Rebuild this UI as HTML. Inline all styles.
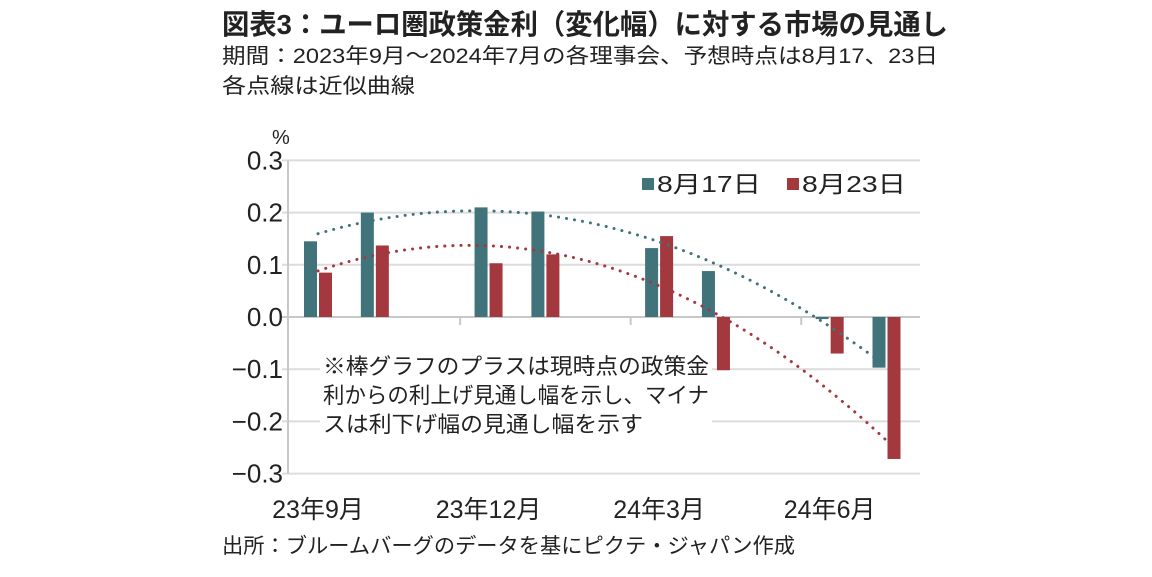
<!DOCTYPE html>
<html><head><meta charset="utf-8"><style>
html,body{margin:0;padding:0;background:#fff;}
svg{display:block;}
text{font-family:"Liberation Sans","Noto Sans CJK JP",sans-serif;fill:#222;}
</style></head><body>
<svg id="chart" width="1152" height="577" viewBox="0 0 1152 577">
<text x="222" y="34" font-size="28" font-weight="bold" textLength="726" lengthAdjust="spacingAndGlyphs">図表3：ユーロ圏政策金利（変化幅）に対する市場の見通し</text>
<text x="222" y="63" font-size="21" textLength="716" lengthAdjust="spacingAndGlyphs">期間：2023年9月～2024年7月の各理事会、予想時点は8月17、23日</text>
<text x="222" y="93" font-size="21" textLength="193" lengthAdjust="spacingAndGlyphs">各点線は近似曲線</text>
<text x="272" y="144" font-size="20">%</text>
<g id="grid"></g>
<g id="bars"></g>
<g id="trends"></g>
<rect x="320" y="346" width="392" height="92" fill="#fff"/>
<g font-size="22">
<text x="323" y="374" textLength="386" lengthAdjust="spacingAndGlyphs">※棒グラフのプラスは現時点の政策金</text>
<text x="323" y="403" textLength="386" lengthAdjust="spacingAndGlyphs">利からの利上げ見通し幅を示し、マイナ</text>
<text x="323" y="432" textLength="320" lengthAdjust="spacingAndGlyphs">スは利下げ幅の見通し幅を示す</text>
</g>
<g id="legend">
<rect x="642" y="178" width="12" height="12" fill="#41737a"/>
<text x="657" y="192" font-size="23" textLength="104" lengthAdjust="spacingAndGlyphs">8月17日</text>
<rect x="787" y="178" width="12" height="12" fill="#a3393f"/>
<text x="802" y="192" font-size="23" textLength="104" lengthAdjust="spacingAndGlyphs">8月23日</text>
</g>
<text x="222" y="553" font-size="21" textLength="573" lengthAdjust="spacingAndGlyphs">出所：ブルームバーグのデータを基にピクテ・ジャパン作成</text>
</svg>
<script>
const monthIndex = [0, 1, 3, 4, 6, 7, 9, 10];
const seriesAug17 = [0.145, 0.200, 0.210, 0.202, 0.132, 0.088, -0.004, -0.097];
const seriesAug23 = [0.085, 0.137, 0.103, 0.120, 0.155, -0.102, -0.070, -0.272];
const yTicks = [0.3, 0.2, 0.1, 0.0, -0.1, -0.2, -0.3];
const yTickLabels = ["0.3", "0.2", "0.1", "0.0", "\u22120.1", "\u22120.2", "\u22120.3"];
const xLabelMonths = [0, 3, 6, 9];
const xLabels = ["23年9月", "23年12月", "24年3月", "24年6月"];

const NS = "http://www.w3.org/2000/svg";
const X0 = 318, SLOT = 56.85, XL = 288, XR = 920;
const yScale = v => 317 - v * 522;
const xScale = m => X0 + m * SLOT;
function mk(tag, attrs, parent) {
  const e = document.createElementNS(NS, tag);
  for (const k in attrs) e.setAttribute(k, attrs[k]);
  parent.appendChild(e); return e;
}
const grid = document.getElementById("grid");
yTicks.forEach((v, i) => {
  const y = yScale(v);
  const l = mk("line", {x1: XL - 6, x2: XR, y1: y, y2: y, stroke: v === 0 ? "#c8c8c8" : "#dcdcdc", "stroke-width": 2}, grid);
  
  
  const t = mk("text", {x: 283, y: y + 9, "font-size": 26, "text-anchor": "end"}, grid);
  t.textContent = yTickLabels[i];
  
  
});
const ax = mk("line", {x1: XL, x2: XL, y1: yScale(0.3), y2: yScale(-0.3), stroke: "#c8c8c8", "stroke-width": 2}, grid);


[3, 6, 9].forEach(m => {
  const x = xScale(m) - SLOT / 2;
  const tk = mk("line", {x1: x, x2: x, y1: yScale(0), y2: yScale(0) + 8, stroke: "#c8c8c8", "stroke-width": 2}, grid);
  
  
});
xLabelMonths.forEach((m, i) => {
  const t = mk("text", {x: xScale(m), y: 518, "font-size": 25, "text-anchor": "middle"}, grid);
  t.textContent = xLabels[i];
  
  
});
const bars = document.getElementById("bars");
const BW = 13;
function drawBars(vals, off, color, name) {
  vals.forEach((v, i) => {
    const x = xScale(monthIndex[i]) + off;
    const y1 = yScale(Math.max(v, 0)), y2 = yScale(Math.min(v, 0));
    const r = mk("rect", {x: x, y: y1, width: BW, height: Math.max(y2 - y1, 1), fill: color}, bars);
    
    
  });
}
drawBars(seriesAug17, -14, "#41737a", "bar-aug17");
drawBars(seriesAug23, 1, "#a3393f", "bar-aug23");

function fit(xs, ys, deg) {
  const n = deg + 1, A = [], b = [];
  for (let r = 0; r < n; r++) { A.push(new Array(n).fill(0)); b.push(0); }
  xs.forEach((x, k) => { for (let r = 0; r < n; r++) { b[r] += ys[k] * Math.pow(x, r); for (let c = 0; c < n; c++) A[r][c] += Math.pow(x, r + c); } });
  for (let i = 0; i < n; i++) { for (let j = i + 1; j < n; j++) { const f = A[j][i] / A[i][i]; for (let c = i; c < n; c++) A[j][c] -= f * A[i][c]; b[j] -= f * b[i]; } }
  const co = new Array(n).fill(0);
  for (let i = n - 1; i >= 0; i--) { let s = b[i]; for (let c = i + 1; c < n; c++) s -= A[i][c] * co[c]; co[i] = s / A[i][i]; }
  return x => co.reduce((s, c, i) => s + c * Math.pow(x, i), 0);
}
const trends = document.getElementById("trends");
function drawTrend(vals, color, name) {
  const f = fit(monthIndex, vals, 2);
  let d = "";
  for (let m = 0; m <= 10.001; m += 0.1) d += (d ? "L" : "M") + xScale(m).toFixed(1) + "," + yScale(f(m)).toFixed(1);
  const p = mk("path", {d: d, fill: "none", stroke: color, "stroke-width": 3, "stroke-dasharray": "0.1 8", "stroke-linecap": "round"}, trends);
  
  
}
drawTrend(seriesAug17, "#41737a", "trendline-aug17");
drawTrend(seriesAug23, "#a3393f", "trendline-aug23");
</script>
</body></html>
